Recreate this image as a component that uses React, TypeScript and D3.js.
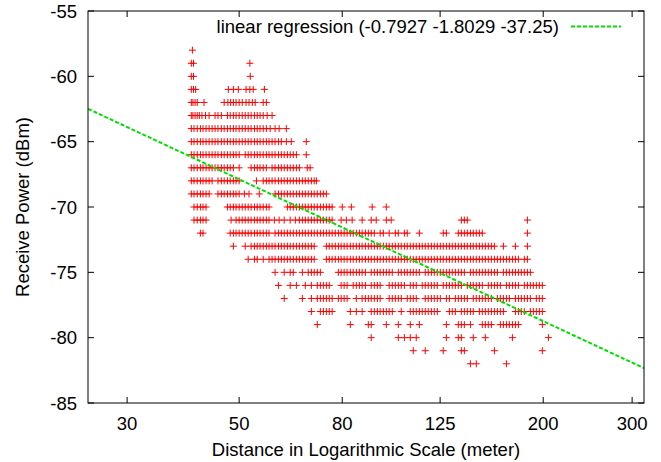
import React from "react";
import * as d3 from "d3";

// Receive power levels (dBm) and the measured distances (m) at each level
const r58 = [40.4];
const r59 = [40.2, 40.6, 52.5];
const r60 = [40.2, 40.6, 52.6];
const r61 = [40.2, 40.6, 41.0, 47.6, 48.7, 49.8, 51.6, 52.5, 53.3, 56.1];
const r62 = [40.2, 40.5, 40.9, 41.3, 42.6, 46.7, 47.5, 48.1, 48.7, 49.3, 50.0, 50.7, 51.6, 52.3, 53.1, 53.8, 55.8, 56.6];
const r63 = [40.2, 40.5, 40.9, 41.3, 41.7, 42.2, 42.9, 43.6, 44.8, 45.4, 46.1, 47.4, 48.0, 48.7, 49.3, 50.0, 50.7, 51.4, 52.1, 52.8, 53.6, 54.3, 55.0, 55.8, 56.8, 58.1];
const r64 = [40.2, 40.7, 41.3, 41.9, 42.4, 43.0, 43.6, 44.2, 44.8, 45.4, 46.1, 46.7, 47.4, 48.0, 48.7, 49.3, 50.0, 50.7, 51.4, 52.1, 52.8, 53.6, 54.3, 55.0, 55.8, 56.6, 57.6, 58.9, 60.0, 62.0];
const r65 = [40.2, 40.7, 41.3, 41.9, 42.4, 43.0, 43.6, 44.2, 44.8, 45.4, 46.1, 46.7, 47.4, 48.0, 48.7, 49.3, 50.0, 50.7, 51.4, 52.1, 52.8, 53.6, 54.3, 55.0, 55.8, 56.6, 57.3, 58.1, 58.9, 59.8, 60.6, 62.0, 63.4, 67.9];
const r66 = [40.2, 40.7, 41.3, 41.9, 42.4, 43.0, 43.6, 44.2, 44.8, 45.4, 46.1, 46.7, 47.4, 48.0, 48.7, 49.3, 50.0, 51.4, 52.1, 52.8, 53.6, 54.3, 55.0, 55.8, 56.6, 57.3, 58.1, 58.9, 59.8, 60.6, 61.4, 62.3, 63.1, 64.0, 64.9, 67.9];
const r67 = [40.2, 40.7, 41.3, 41.9, 42.4, 43.0, 43.6, 44.2, 44.8, 45.4, 46.1, 46.7, 47.4, 48.0, 48.7, 50.0, 52.8, 53.6, 54.3, 55.0, 55.8, 56.6, 58.1, 58.9, 59.8, 60.6, 61.4, 62.3, 63.1, 64.0, 64.9, 65.8, 68.2, 69.1];
const r68 = [40.2, 40.7, 41.3, 41.9, 42.4, 43.0, 43.6, 44.2, 45.4, 46.1, 46.7, 47.4, 48.0, 48.7, 49.3, 50.0, 54.1, 55.8, 56.6, 57.3, 58.1, 58.9, 59.8, 60.6, 61.4, 62.3, 63.1, 64.0, 64.9, 65.8, 66.7, 67.6, 68.5, 69.5, 70.4, 71.1];
const r69 = [40.2, 40.7, 41.3, 41.9, 42.4, 43.0, 43.6, 45.4, 46.1, 46.7, 47.4, 48.0, 48.7, 49.3, 50.0, 51.2, 52.3, 54.8, 58.9, 59.8, 60.6, 61.4, 62.3, 63.1, 64.0, 64.9, 65.8, 66.7, 67.6, 68.5, 69.5, 70.4, 71.4, 72.4, 73.4, 74.4];
const r70 = [40.7, 41.3, 41.9, 42.4, 43.0, 47.4, 48.0, 48.7, 49.3, 50.0, 50.7, 51.4, 52.1, 52.8, 53.6, 54.3, 55.0, 55.8, 56.6, 57.3, 62.3, 63.1, 64.0, 64.9, 65.8, 66.7, 67.6, 68.5, 69.5, 70.4, 71.4, 72.4, 73.4, 74.4, 75.4, 76.4, 80.0, 83.4, 91.7, 97.8];
const r71 = [40.7, 41.3, 41.9, 42.4, 43.0, 48.2, 49.3, 50.0, 50.7, 51.4, 52.1, 52.8, 53.6, 54.3, 55.0, 55.8, 56.6, 57.3, 58.7, 60.0, 61.4, 63.1, 64.6, 65.8, 66.7, 67.6, 68.5, 69.5, 70.4, 71.4, 72.4, 73.4, 74.4, 75.4, 76.4, 79.6, 81.5, 83.7, 87.6, 91.3, 93.4, 97.8, 100.0, 137.7, 139.6, 141.5, 186.1];
const r72 = [41.9, 42.4, 48.0, 48.7, 49.3, 50.0, 50.7, 51.4, 52.1, 52.8, 53.6, 54.3, 55.0, 55.8, 56.6, 57.3, 58.9, 59.8, 60.6, 61.4, 62.3, 63.1, 64.0, 64.9, 65.8, 66.7, 67.6, 68.5, 69.5, 70.4, 71.4, 72.4, 73.4, 74.4, 75.4, 76.4, 77.5, 78.6, 79.6, 80.7, 81.8, 83.0, 84.1, 85.3, 86.5, 87.6, 88.9, 90.1, 91.3, 92.6, 95.1, 96.5, 99.1, 101.9, 103.3, 106.2, 107.6, 113.7, 126.8, 128.6, 135.8, 137.7, 139.6, 141.5, 143.5, 145.4, 147.4, 149.5, 151.5, 186.1];
const r73 = [48.7, 51.4, 52.8, 53.6, 54.3, 55.0, 55.8, 56.6, 57.3, 58.1, 58.9, 59.8, 60.6, 61.4, 62.3, 63.1, 64.0, 64.9, 65.8, 66.7, 67.6, 68.5, 69.5, 70.4, 74.4, 75.4, 76.4, 77.5, 78.6, 79.6, 80.7, 81.8, 83.0, 84.1, 85.3, 86.5, 87.6, 88.9, 90.1, 91.3, 92.6, 93.9, 95.1, 96.5, 97.8, 99.1, 100.5, 101.9, 103.3, 104.7, 106.2, 107.6, 109.1, 110.6, 112.1, 113.7, 115.2, 116.8, 118.4, 120.1, 121.7, 123.4, 125.1, 126.8, 128.6, 130.4, 132.1, 134.0, 135.8, 137.7, 139.6, 141.5, 143.5, 145.4, 147.4, 149.5, 151.5, 153.6, 155.7, 157.9, 160.1, 166.8, 176.2, 186.1];
const r74 = [52.1, 53.6, 54.3, 55.8, 57.3, 58.1, 58.9, 59.8, 60.6, 61.4, 62.3, 63.1, 64.0, 64.9, 65.8, 66.7, 67.6, 68.5, 69.5, 70.4, 74.4, 75.4, 76.4, 77.5, 78.6, 79.6, 80.7, 81.8, 83.0, 84.1, 85.3, 86.5, 87.6, 88.9, 90.1, 91.3, 92.6, 93.9, 95.1, 96.5, 97.8, 99.1, 100.5, 101.9, 103.3, 104.7, 106.2, 107.6, 109.1, 110.6, 112.1, 113.7, 115.2, 116.8, 118.4, 120.1, 121.7, 123.4, 125.1, 126.8, 128.6, 130.4, 132.1, 134.0, 135.8, 137.7, 139.6, 141.5, 143.5, 145.4, 147.4, 149.5, 151.5, 153.6, 155.7, 157.9, 160.1, 162.3, 164.5, 166.8, 169.1, 171.4, 173.8, 176.2, 178.6, 183.5, 186.1];
const r75 = [58.9, 61.4, 63.1, 64.0, 66.7, 68.5, 69.5, 70.4, 71.4, 72.4, 78.6, 79.6, 80.7, 81.8, 83.0, 84.1, 85.3, 86.5, 87.6, 88.9, 91.3, 92.6, 93.9, 95.1, 96.5, 97.8, 99.1, 100.5, 103.3, 104.7, 106.2, 107.6, 109.1, 110.6, 112.1, 113.7, 116.8, 118.4, 120.1, 121.7, 123.4, 125.1, 126.8, 128.6, 130.4, 132.1, 134.0, 135.8, 137.7, 139.6, 143.5, 145.4, 147.4, 149.5, 151.5, 153.6, 155.7, 157.9, 160.1, 162.3, 166.8, 169.1, 171.4, 173.8, 176.2, 178.6, 181.0, 183.5, 186.1, 188.6];
const r76 = [59.8, 63.1, 64.9, 67.6, 69.5, 71.4, 72.4, 73.4, 74.4, 75.4, 79.6, 80.7, 81.8, 84.1, 85.3, 86.5, 87.6, 88.9, 91.3, 92.6, 93.9, 95.1, 99.1, 100.5, 101.9, 103.3, 104.7, 106.2, 109.1, 110.6, 112.1, 115.2, 116.8, 118.4, 120.1, 121.7, 123.4, 126.8, 128.6, 130.4, 132.1, 134.0, 135.8, 137.7, 141.5, 143.5, 145.4, 147.4, 149.5, 151.5, 155.7, 157.9, 160.1, 162.3, 164.5, 169.1, 171.4, 173.8, 176.2, 178.6, 183.5, 186.1, 188.6, 191.2, 193.8, 196.5, 199.2];
const r77 = [61.4, 66.7, 69.5, 71.4, 72.4, 73.4, 74.4, 75.4, 76.4, 78.6, 79.6, 80.7, 81.8, 85.3, 87.6, 88.9, 90.1, 91.3, 92.6, 93.9, 95.1, 99.1, 100.5, 101.9, 103.3, 104.7, 107.6, 109.1, 110.6, 112.1, 116.8, 118.4, 120.1, 121.7, 123.4, 125.1, 128.6, 130.4, 134.0, 135.8, 137.7, 139.6, 141.5, 145.4, 147.4, 149.5, 151.5, 153.6, 155.7, 157.9, 162.3, 164.5, 166.8, 169.1, 171.4, 176.2, 178.6, 181.0, 183.5, 186.1, 188.6, 193.8, 196.5, 199.2];
const r78 = [69.5, 72.4, 73.4, 74.4, 75.4, 76.4, 83.0, 85.3, 87.6, 91.3, 92.6, 93.9, 95.1, 96.5, 97.8, 99.1, 100.5, 104.7, 109.1, 110.6, 112.1, 113.7, 115.2, 116.8, 118.4, 120.1, 121.7, 123.4, 130.4, 132.1, 134.0, 137.7, 139.6, 141.5, 143.5, 145.4, 149.5, 151.5, 153.6, 155.7, 157.9, 160.1, 162.3, 164.5, 166.8, 176.2, 178.6, 181.0, 183.5, 188.6, 191.2, 193.8, 196.5, 199.2];
const r79 = [71.4, 83.0, 90.1, 91.3, 97.8, 103.3, 109.1, 113.7, 128.6, 135.8, 137.7, 139.6, 143.5, 151.5, 153.6, 155.7, 157.9, 164.5, 166.8, 169.1, 171.4, 173.8, 176.2, 178.6, 199.2];
const r80 = [91.3, 103.3, 106.2, 109.1, 112.1, 128.6, 135.8, 137.7, 145.4, 153.6, 173.8, 204.8];
const r81 = [110.6, 116.8, 126.8, 137.7, 139.6, 160.1, 199.2];
const r82 = [143.5, 147.4, 169.1];

const powerLevels = [-58, -59, -60, -61, -62, -63, -64, -65, -66, -67, -68, -69, -70, -71, -72, -73, -74, -75, -76, -77, -78, -79, -80, -81, -82];
const distanceRows = [r58, r59, r60, r61, r62, r63, r64, r65, r66, r67, r68, r69, r70, r71, r72, r73, r74, r75, r76, r77, r78, r79, r80, r81, r82];

const xTicks = [30, 50, 80, 125, 200, 300];
const yTicks = [-85, -80, -75, -70, -65, -60, -55];
const regressionParams = [-0.7927, -1.8029, -37.25];
const legendLabel = `linear regression (${regressionParams[0]} ${regressionParams[1]} ${regressionParams[2]})`;

const W = 661;
const H = 462;
const M = { left: 88, right: 644, top: 11, bottom: 403 };
const FONT = "'Liberation Sans', Arial, Helvetica, sans-serif";
const FS = 18.5;

export default function App() {
  const x = d3.scaleLog().domain([25.1, 316.7]).range([M.left, M.right]);
  const y = d3.scaleLinear().domain([-85, -55]).range([M.bottom, M.top]);

  const points: { d: number; p: number }[] = [];
  powerLevels.forEach((p, i) => distanceRows[i].forEach((d) => points.push({ d, p })));

  const plusPath = points
    .map(({ d, p }) => {
      const cx = x(d);
      const cy = y(p);
      return `M${cx - 3.5},${cy}H${cx + 3.5}M${cx},${cy - 3.5}V${cy + 3.5}`;
    })
    .join("");

  const fit = (d: number) => regressionParams[1] * 10 * Math.log10(d) + regressionParams[2];
  const lineGen = d3
    .line<number>()
    .x((d) => x(d))
    .y((d) => y(fit(d)));
  const lineDomain = x.domain();
  const lineData = [lineDomain[0], lineDomain[1]];

  const tickLen = 6;

  return (
    <svg width={W} height={H} style={{ display: "block", position: "absolute", left: 0, top: 0, background: "#fff" }} fontFamily={FONT}>
      <defs>
        <clipPath id="plotclip">
          <rect x={M.left} y={M.top} width={M.right - M.left} height={M.bottom - M.top} />
        </clipPath>
      </defs>
      <rect x={0} y={0} width={W} height={H} fill="#fff" />

      {yTicks.map((t) => (
        <g key={"yt" + t}>
          <line x1={M.left} x2={M.left + tickLen} y1={y(t)} y2={y(t)} stroke="#000" strokeWidth={1} />
          <line x1={M.right} x2={M.right - tickLen} y1={y(t)} y2={y(t)} stroke="#000" strokeWidth={1} />
          <text x={77} y={y(t)} textAnchor="end" dominantBaseline="central" fontSize={FS} fill="#000">
            {t}
          </text>
        </g>
      ))}
      {xTicks.map((t) => (
        <g key={"xt" + t}>
          <line x1={x(t)} x2={x(t)} y1={M.bottom} y2={M.bottom - tickLen} stroke="#000" strokeWidth={1} />
          <line x1={x(t)} x2={x(t)} y1={M.top} y2={M.top + tickLen} stroke="#000" strokeWidth={1} />
          <text x={x(t)} y={429.5} textAnchor="middle" fontSize={FS} fill="#000">
            {t}
          </text>
        </g>
      ))}

      <g clipPath="url(#plotclip)">
        <path d={plusPath} stroke="#ff0000" strokeWidth={1} fill="none" />
        <path d={lineGen(lineData) || ""} stroke="#00e000" strokeWidth={2} fill="none" strokeDasharray="4,2" />
      </g>

      <text x={559} y={33} textAnchor="end" fontSize={FS} fill="#000">
        {legendLabel}
      </text>
      <line x1={571} x2={621} y1={26.5} y2={26.5} stroke="#00e000" strokeWidth={2} strokeDasharray="4,2" />

      <rect x={M.left} y={M.top} width={M.right - M.left} height={M.bottom - M.top} fill="none" stroke="#000" strokeWidth={1} />

      <text x={(M.left + M.right) / 2} y={456} textAnchor="middle" fontSize={FS} fill="#000">
        Distance in Logarithmic Scale (meter)
      </text>
      <text transform={`translate(29,${(M.top + M.bottom) / 2}) rotate(-90)`} textAnchor="middle" fontSize={FS} fill="#000">
        Receive Power (dBm)
      </text>
    </svg>
  );
}
